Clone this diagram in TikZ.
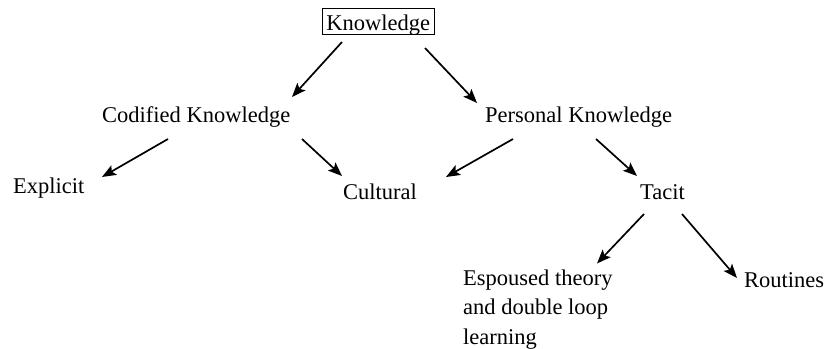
\documentclass[tikz,border=0pt]{standalone}
\usepackage{fontspec}
\setmainfont{Liberation Serif}
\usetikzlibrary{arrows.meta}
\begin{document}
\begin{tikzpicture}[x=1pt,y=-1pt,
  lbl/.style={anchor=base west,inner sep=0pt,font=\fontsize{22.5}{29.5}\selectfont},
  conn/.style={line width=1.7pt,-{Stealth[length=14pt,width=11pt,inset=3pt]}}]
\useasboundingbox (0,0) rectangle (827,348);
\node[lbl,draw,line width=0.8pt,inner xsep=4pt,inner ysep=0pt,text height=22pt,text depth=4pt] (know) at (322,30) {Knowledge};
\node[lbl] (cod) at (102,122) {Codified Knowledge};
\node[lbl] (pers) at (485,122) {Personal Knowledge};
\node[lbl] (exp) at (13,193) {Explicit};
\node[lbl] (cul) at (343,199) {Cultural};
\node[lbl] (tac) at (640,199) {Tacit};
\node[lbl] (esp) at (463,285.5) {\parbox[t]{170pt}{\fontsize{22.5}{29.3}\selectfont Espoused theory\\and double loop\\learning}};
\node[lbl] (rout) at (744,287) {Routines};
\draw[conn] ([shift={(20,12)}]know.base west) -- ([shift={(190,-25)}]cod.base west);
\draw[conn] ([shift={(103,18)}]know.base west) -- ([shift={(-8,-19)}]pers.base west);
\draw[conn] ([shift={(66,17)}]cod.base west) -- ([shift={(89,-16)}]exp.base west);
\draw[conn] ([shift={(200,17)}]cod.base west) -- ([shift={(-1,-23)}]cul.base west);
\draw[conn] ([shift={(28,17)}]pers.base west) -- ([shift={(103,-22)}]cul.base west);
\draw[conn] ([shift={(111,17)}]pers.base west) -- ([shift={(-3,-23)}]tac.base west);
\draw[conn] ([shift={(4,15)}]tac.base west) -- ([shift={(134,-22)}]esp.base west);
\draw[conn] ([shift={(42,15)}]tac.base west) -- ([shift={(-7,-9)}]rout.base west);
\end{tikzpicture}
\end{document}
